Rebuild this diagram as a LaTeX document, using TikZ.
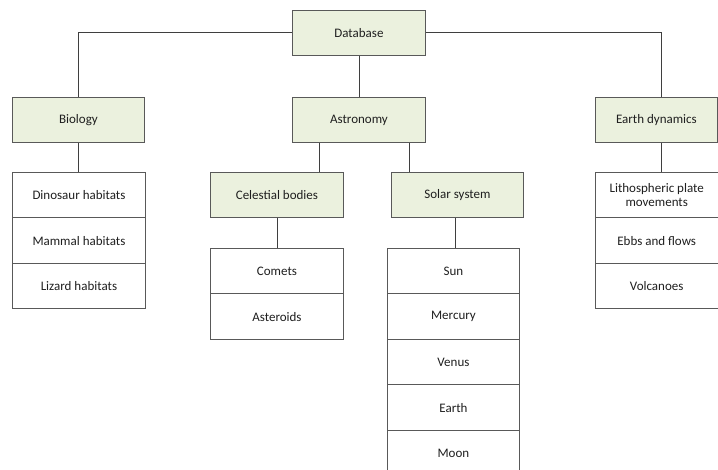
\documentclass[tikz,border=0pt]{standalone}
\usepackage{fontspec}
\setmainfont{Carlito}
\definecolor{catfill}{HTML}{EBF1DE}
\definecolor{boxline}{HTML}{595959}
\definecolor{linkline}{HTML}{3F3F3F}
\definecolor{txt}{HTML}{1F1F1F}
\begin{document}
\begin{tikzpicture}[x=1pt,y=-1pt,
  base/.style={draw=boxline, line width=0.9pt, anchor=north west, inner sep=0pt,
    text=txt, font=\fontsize{13}{14}\selectfont, align=center},
  cat/.style={base, fill=catfill, minimum width=#1, minimum height=45pt},
  leaf/.style={base, fill=white, minimum width=#1, minimum height=45.5pt},
  link/.style={draw=linkline, line width=0.9pt}]
\useasboundingbox (0,0) rectangle (718,470);
\clip (0,0) rectangle (718,470);
% categories
\node[cat=133pt] (db) at (292,10) {Database};
\node[cat=132pt] (bio) at (12,97) {Biology};
\node[cat=133pt] (astro) at (292,97) {Astronomy};
\node[cat=122pt] (earthdyn) at (595,97) {Earth dynamics};
\node[cat=133pt] (celes) at (210,172) {Celestial bodies};
\node[cat=132pt] (solar) at (391,172) {Solar system};
% biology list
\node[leaf=133pt] (dino) at (12,172) {Dinosaur habitats};
\node[leaf=133pt] (mammal) at (12,217.5) {Mammal habitats};
\node[leaf=133pt] (lizard) at (12,263) {Lizard habitats};
% celestial list
\node[leaf=133pt] (comets) at (210,248) {Comets};
\node[leaf=133pt] (asteroids) at (210,293.5) {Asteroids};
% solar list
\node[leaf=132pt] (sun) at (387,248) {Sun};
\node[leaf=132pt] (mercury) at (387,293.5) {Mercury};
\node[leaf=132pt] (venus) at (387,339) {Venus};
\node[leaf=132pt] (earth) at (387,384.5) {Earth};
\node[leaf=132pt] (moon) at (387,430) {Moon};
% earth dynamics list
\node[leaf=122.5pt] (litho) at (595,172) {Lithospheric plate\\movements};
\node[leaf=122.5pt] (ebbs) at (595,217.5) {Ebbs and flows};
\node[leaf=122.5pt] (volc) at (595,263) {Volcanoes};
% connectors
\draw[link] (db.west) -| (bio.north);
\draw[link] (db.east) -| ([xshift=5pt]earthdyn.north);
\draw[link] (db.south) -- (astro.north);
\draw[link] (bio.south) -- (bio.south |- dino.north);
\draw[link] ([xshift=5pt]earthdyn.south) -- ([xshift=5pt]earthdyn.south |- litho.north);
\draw[link] ([xshift=-40pt]astro.south) -- ([xshift=-40pt]astro.south |- celes.north);
\draw[link] ([xshift=50pt]astro.south) -- ([xshift=50pt]astro.south |- solar.north);
\draw[link] (celes.south) -- (comets.north);
\draw[link] ([xshift=-2pt]solar.south) -- ([xshift=-2pt]solar.south |- sun.north);
\end{tikzpicture}
\end{document}
